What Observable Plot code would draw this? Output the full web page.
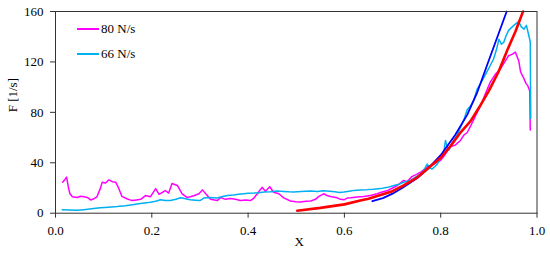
<!DOCTYPE html>
<html><head><meta charset="utf-8">
<script src="https://cdn.jsdelivr.net/npm/d3@7"></script>
<script src="https://cdn.jsdelivr.net/npm/@observablehq/plot@0.6"></script>
<style>
body{margin:0;background:#fff;}
#wrap{position:relative;width:550px;height:255px;font-family:'Liberation Serif',serif;}
#wrap svg, #wrap svg text{font-family:'Liberation Serif',serif !important;}
.leg{position:absolute;left:77px;font-size:13px;color:#000;display:flex;align-items:center;font-family:'Liberation Serif',serif;}
.leg span.l{display:inline-block;width:22px;height:2px;margin-right:2px;}
</style></head>
<body><div id="wrap"></div>
<script>
const xTicks = [0, 0.2, 0.4, 0.6, 0.8, 1.0];
const yTicks = [0, 40, 80, 120, 160];
const seriesNames = ["80 N/s", "66 N/s"];

const x80 = [0.015,0.020,0.023,0.027,0.030,0.035,0.045,0.052,0.059,0.066,0.073,0.080,0.086,0.093,0.097,0.104,0.111,0.118,0.125,0.131,0.138,0.148,0.159,0.168,0.177,0.187,0.197,0.208,0.215,0.222,0.228,0.235,0.242,0.253,0.263,0.273,0.280,0.287,0.298,0.305,0.312,0.322,0.336,0.343,0.353,0.363,0.374,0.384,0.395,0.405,0.412,0.419,0.429,0.436,0.445,0.453,0.464,0.474,0.488,0.499,0.509,0.520,0.530,0.540,0.547,0.557,0.564,0.571,0.585,0.592,0.599,0.606,0.613,0.627,0.640,0.654,0.668,0.680,0.690,0.700,0.710,0.723,0.730,0.740,0.751,0.760,0.772,0.780,0.790,0.800,0.810,0.820,0.830,0.841,0.848,0.855,0.862,0.872,0.883,0.893,0.903,0.913,0.924,0.933,0.941,0.948,0.955,0.962,0.966,0.970,0.973,0.977,0.981,0.985,0.986];
const f80 = [24.6,27,28.6,20,15.4,13,12.5,13.5,13,12.5,10.5,11.5,13,19.5,24.6,24,26.5,25,24.6,20,13.3,11.5,10,10.5,11,14,13,19.5,15,16.5,18,16,23.5,22,15.4,12.5,13,13.8,15.4,18.5,15.4,11,10,12.5,11,11.6,11,10,10.5,10,12,15.4,20.5,17.4,21,16.6,15.4,12.2,9.7,9,8.9,9.5,9.7,11,13.3,15.4,14,13.3,12.2,11,10.6,12,12.2,12.8,13.3,14,15.4,17,18,20,22,26,25,29,31,33,36.8,38,40,42,47,52.6,54,57.7,62,64,69,77,85.5,95,104,110,114.6,120,125,126,127.8,121,112,109,106.7,103,101,97,66];

const x66 = [0.014,0.030,0.045,0.059,0.075,0.093,0.110,0.128,0.145,0.163,0.180,0.197,0.208,0.218,0.228,0.239,0.250,0.260,0.270,0.280,0.290,0.300,0.308,0.320,0.336,0.345,0.357,0.370,0.380,0.391,0.400,0.412,0.422,0.433,0.447,0.460,0.475,0.485,0.495,0.510,0.520,0.530,0.545,0.555,0.564,0.580,0.590,0.599,0.610,0.620,0.633,0.647,0.660,0.675,0.690,0.703,0.713,0.723,0.737,0.745,0.758,0.765,0.772,0.777,0.782,0.788,0.793,0.800,0.807,0.810,0.814,0.817,0.822,0.827,0.834,0.841,0.848,0.855,0.862,0.869,0.876,0.883,0.890,0.900,0.910,0.916,0.921,0.926,0.931,0.936,0.941,0.948,0.955,0.962,0.967,0.973,0.978,0.983,0.986,0.987];
const f66 = [2.7,2.5,2.3,2.8,3.5,4.3,4.8,5.3,6,6.9,7.8,8.7,9.5,10.6,10,10,11,12.2,11.5,10.6,10.3,10,12,12.5,12,13,14,14.5,15,15.4,15.8,16,16.3,16.8,17,17.6,17.3,17,16.8,17.2,17.5,17.6,17.2,17.8,17.6,17,16.5,16.8,17.5,18.1,18.5,18.7,19,19.5,20.5,21.9,23,24.5,25.9,28,31,34,39,36,35,37,39,44,50,57.7,52,50,54,57.7,62,68,74,82,85,90,98.7,103,108,115,122.5,130,138,134,135.7,141,145,147.6,150,152,148,146,149,141,136,75];

const xRed = [0.502,0.55,0.60,0.633,0.65,0.70,0.723,0.75,0.772,0.80,0.82,0.841,0.862,0.88,0.90,0.92,0.938,0.955,0.971];
const fRed = [2,4.2,7,10,11.5,17.5,22,28,35,44,53,64,73,84,97,112,129,144,160];

const xBlue = [0.658,0.68,0.70,0.72,0.75,0.77,0.80,0.83,0.855,0.875,0.894,0.915,0.937];
const fBlue = [9.5,12,15.5,20,27.5,34,46,62,78,95,115,137,160];

const zip = (xs, ys) => xs.map((x, i) => ({x, y: ys[i]}));
const d80 = zip(x80, f80), d66 = zip(x66, f66), dRed = zip(xRed, fRed), dBlue = zip(xBlue, fBlue);

const chart = Plot.plot({
  width: 550, height: 255,
  marginLeft: 55, marginRight: 13.5, marginTop: 11, marginBottom: 42.3,
  style: {fontFamily: "'Liberation Serif', serif", fontSize: "13px", color: "#000", background: "#fff"},
  x: {domain: [0, 1]},
  y: {domain: [0, 160]},
  marks: [
    Plot.line(d80, {x: "x", y: "y", stroke: "#ff00ff", strokeWidth: 1.5}),
    Plot.line(d66, {x: "x", y: "y", stroke: "#00b0f0", strokeWidth: 1.5}),
    Plot.line(dBlue, {x: "x", y: "y", stroke: "#0000ff", strokeWidth: 1.8}),
    Plot.line(dRed, {x: "x", y: "y", stroke: "#ff0000", strokeWidth: 2.6}),
    Plot.frame({stroke: "#333", strokeWidth: 1}),
    Plot.axisX({ticks: xTicks, tickFormat: d3.format(".1f"), tickSize: 5, tickPadding: 8, label: null, stroke: "#333", fontSize: 13}),
    Plot.axisY({ticks: yTicks, tickSize: 5, tickPadding: 7, label: null, stroke: "#333", fontSize: 13}),
    Plot.text(["X"], {frameAnchor: "bottom", dy: 33, dx: 3, fontSize: 13, fill: "#000"}),
    Plot.text(["F [1/s]"], {frameAnchor: "left", dx: -43, rotate: -90, fontSize: 13, fill: "#000"})
  ]
});
const wrap = document.getElementById("wrap");
wrap.appendChild(chart);
const colors = ["#ff00ff", "#00b0f0"];
const tops = [21, 46];
seriesNames.forEach((n, i) => {
  const d = document.createElement("div");
  d.className = "leg";
  d.style.top = tops[i] + "px";
  d.innerHTML = `<span class="l" style="background:${colors[i]}"></span>${n}`;
  wrap.appendChild(d);
});
</script></body></html>
